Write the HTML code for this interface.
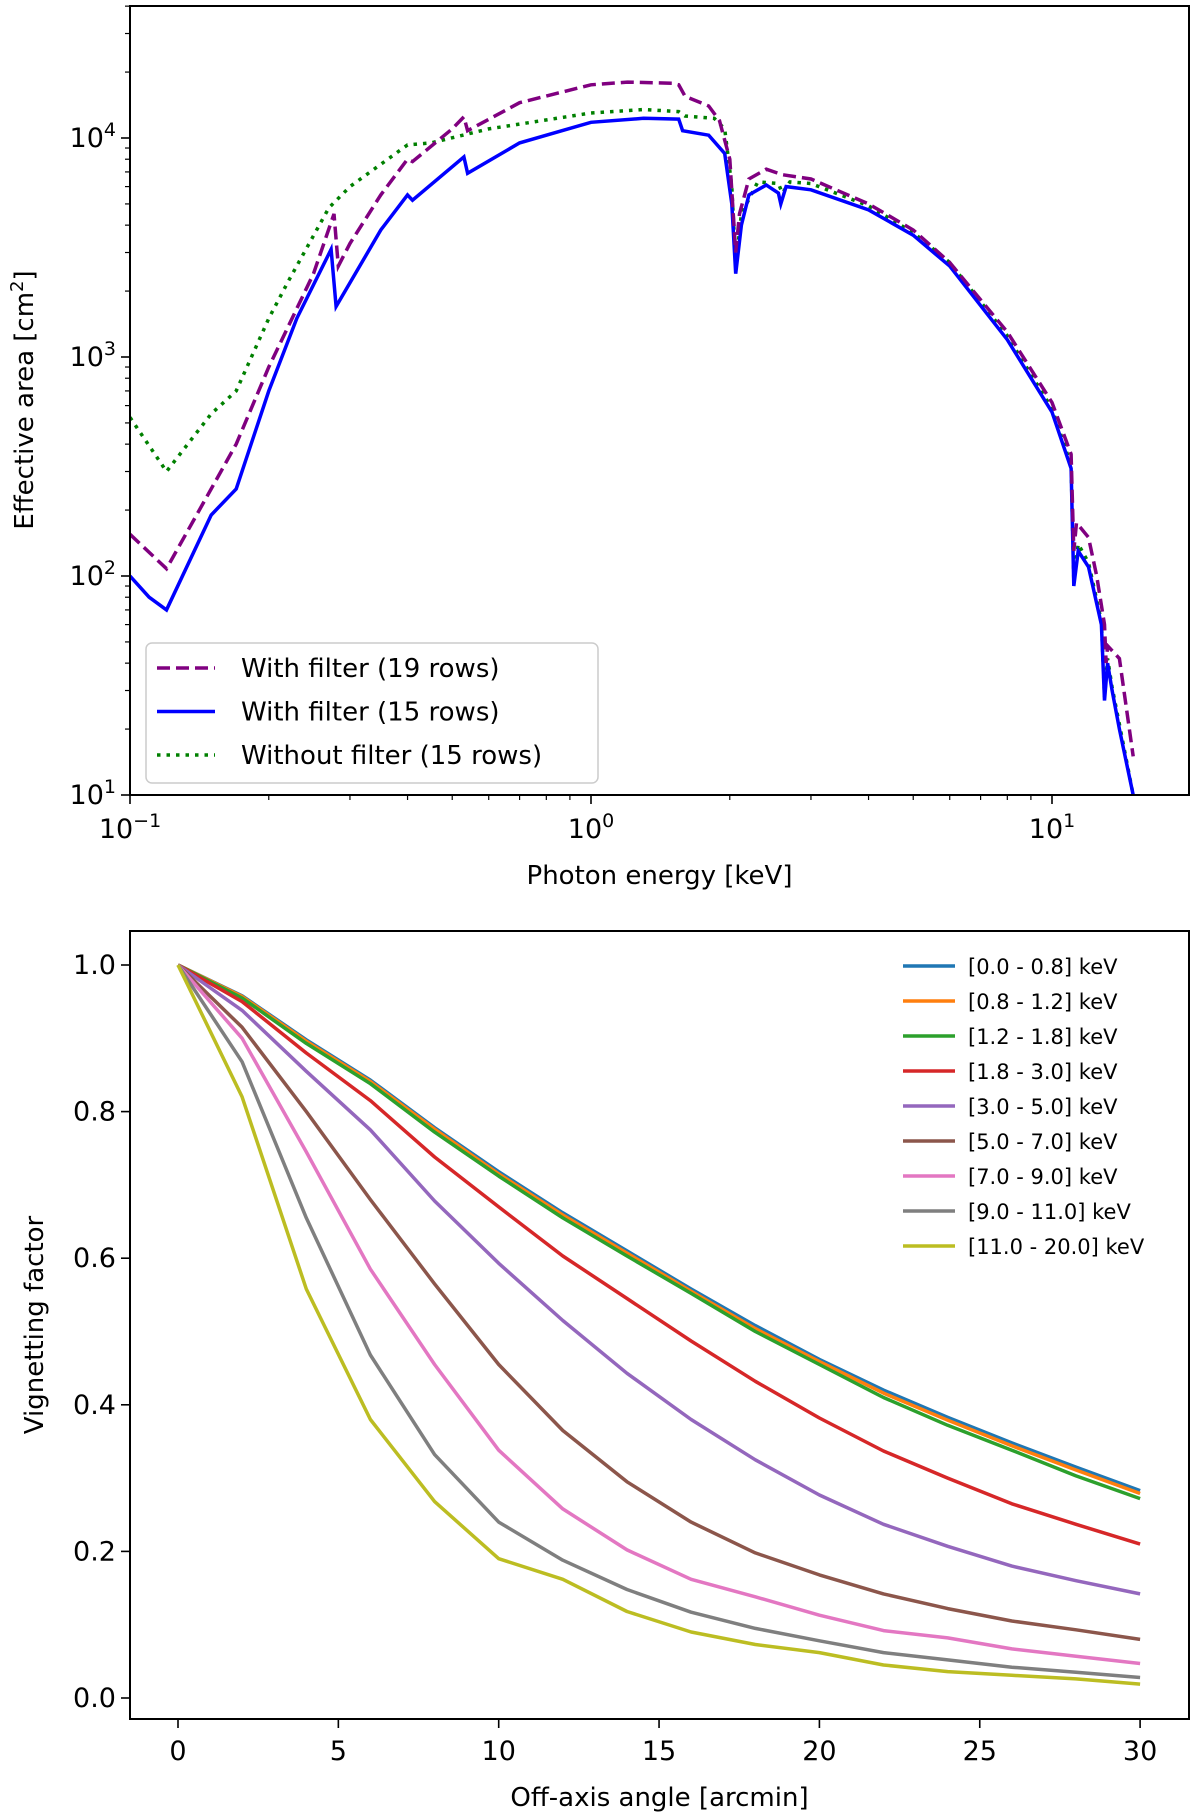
<!DOCTYPE html>
<html><head><meta charset="utf-8"><style>
body{margin:0;background:#fff}
svg{display:block;font-family:"DejaVu Sans","Liberation Sans",sans-serif}
</style></head><body>
<svg id="fig" width="1200" height="1819" viewBox="0 0 1200 1819" xmlns="http://www.w3.org/2000/svg"></svg>
<script>
// ---- Top chart data ----
const e19 = [0.1,0.12,0.15,0.17,0.2,0.25,0.277,0.283,0.3,0.35,0.4,0.41,0.5,0.53,0.54,0.7,1.0,1.2,1.5,1.55,1.6,1.8,1.9,2.0,2.06,2.1,2.2,2.4,2.6,3.0,4,5,6,8,10,11,11.15,11.3,12,12.5,13,13.1,13.2,14,15];
const a19 = [155,108,250,400,900,2400,4500,2600,3300,5500,8000,7800,11000,12500,10800,14500,17500,18000,17800,17500,15500,14000,12000,8000,3000,4500,6500,7200,6800,6500,5000,3800,2700,1300,620,360,130,175,150,100,60,40,48,42,15];
const e15 = [0.1,0.11,0.12,0.15,0.17,0.2,0.23,0.273,0.28,0.35,0.4,0.41,0.53,0.54,0.7,1.0,1.3,1.55,1.58,1.8,1.95,2.02,2.06,2.12,2.2,2.4,2.55,2.58,2.65,3,4,5,6,8,10,11,11.15,11.4,12,12.8,13,13.2,13.5,14,15];
const a15 = [100,80,70,190,250,700,1500,3100,1700,3800,5500,5200,8200,6900,9500,11800,12300,12200,10800,10300,8500,5000,2400,4000,5500,6100,5600,5000,6000,5800,4700,3600,2600,1200,560,310,90,130,110,60,27,40,30,20,10];
const eNo = [0.1,0.12,0.15,0.17,0.2,0.22,0.27,0.3,0.4,0.45,0.6,1.0,1.3,1.55,1.6,1.85,1.95,2.02,2.06,2.12,2.3,2.55,2.6,2.7,3,4,5,6,8,10,11,11.15,11.4,12,12.8,13,13.2,13.5,14,15];
const aNo = [530,300,550,700,1500,2200,4800,6000,9300,9500,11000,13000,13500,13200,12600,12300,11000,6000,2600,4500,6300,6200,5600,6300,6200,4900,3700,2700,1250,580,320,95,140,115,62,28,42,31,21,10];
const topXTicks = [-1,0,1];
const topYTicks = [1,2,3,4];
// ---- Bottom chart data ----
const angles = [0,2,4,6,8,10,12,14,16,18,20,22,24,26,28,30];
const bandLabels = ["[0.0 - 0.8] keV","[0.8 - 1.2] keV","[1.2 - 1.8] keV","[1.8 - 3.0] keV","[3.0 - 5.0] keV","[5.0 - 7.0] keV","[7.0 - 9.0] keV","[9.0 - 11.0] keV","[11.0 - 20.0] keV"];
const v0 = [1,.958,.898,.843,.778,.718,.662,.61,.558,.508,.462,.42,.383,.348,.315,.283];
const v1 = [1,.957,.896,.841,.776,.715,.659,.607,.555,.504,.459,.416,.379,.344,.311,.279];
const v2 = [1,.955,.893,.838,.772,.712,.655,.603,.552,.5,.455,.41,.372,.338,.303,.272];
const v3 = [1,.95,.88,.815,.738,.67,.603,.545,.487,.432,.382,.337,.3,.265,.237,.21];
const v4 = [1,.938,.855,.775,.678,.593,.515,.443,.38,.325,.277,.237,.207,.18,.16,.142];
const v5 = [1,.915,.8,.68,.565,.455,.365,.295,.24,.198,.168,.142,.122,.105,.093,.08];
const v6 = [1,.9,.745,.585,.455,.338,.258,.202,.162,.138,.113,.092,.082,.067,.057,.047];
const v7 = [1,.868,.655,.468,.332,.24,.188,.148,.117,.095,.078,.062,.052,.042,.035,.028];
const v8 = [1,.82,.558,.38,.268,.19,.162,.118,.09,.073,.062,.045,.036,.031,.026,.019];
const bottomXTicks = [0,5,10,15,20,25,30];
const bottomYTicks = [0,0.2,0.4,0.6,0.8,1.0];

const NS="http://www.w3.org/2000/svg";
const svg=document.getElementById('fig');
function mk(tag,attrs,parent,text){const el=document.createElementNS(NS,tag);for(const k in attrs)el.setAttribute(k,attrs[k]);if(text!==undefined)el.textContent=text;(parent||svg).appendChild(el);return el;}

// ---- top axes ----
const T={l:130,r:1189,t:6,b:795};
const tx=e=>T.l+(Math.log10(e)+1)*461;
const ty=a=>T.b-(Math.log10(a)-1)*219;
const gTop=mk('g',{});


function path(xs,ys,fx,fy,attrs,parent,name){const d=xs.map((x,i)=>(i?'L':'M')+fx(x).toFixed(1)+','+fy(ys[i]).toFixed(1)).join('');const p=mk('path',Object.assign({d,fill:'none'},attrs),parent);return p;}
const clipT=mk('clipPath',{id:'ct'});mk('rect',{x:T.l,y:T.t,width:T.r-T.l,height:T.b-T.t},clipT);
const sT=mk('g',{'clip-path':'url(#ct)'},gTop);
path(eNo,aNo,tx,ty,{stroke:'#008000','stroke-width':3.5,'stroke-dasharray':'3.5,6'},sT,'series-without-filter-15-rows');
path(e15,a15,tx,ty,{stroke:'#0000ff','stroke-width':3.5},sT,'series-with-filter-15-rows');
path(e19,a19,tx,ty,{stroke:'#800080','stroke-width':3.5,'stroke-dasharray':'13,6'},sT,'series-with-filter-19-rows');
for(let d=-1;d<=1;d++)for(let m=2;m<=9;m++){const e=m*Math.pow(10,d);if(e>19.8)break;const x=tx(e);mk('line',{x1:x,x2:x,y1:T.b,y2:T.b+5,stroke:'#000','stroke-width':1.2},gTop);}
for(let d=1;d<=4;d++)for(let m=2;m<=9;m++){const a=m*Math.pow(10,d);const y=ty(a);if(y<T.t)break;mk('line',{x1:T.l-5,x2:T.l,y1:y,y2:y,stroke:'#000','stroke-width':1.2},gTop);}
topXTicks.forEach(p=>{const x=tx(Math.pow(10,p));mk('line',{x1:x,x2:x,y1:T.b,y2:T.b+9,stroke:'#000','stroke-width':1.6},gTop);
 const t=mk('text',{x:x,y:T.b+43,'font-size':27,'text-anchor':'middle'},gTop);
 mk('tspan',{},t,'10');mk('tspan',{dy:-11,'font-size':19},t,p<0?'\u2212'+(-p):String(p));});
topYTicks.forEach(p=>{const y=ty(Math.pow(10,p));mk('line',{x1:T.l-9,x2:T.l,y1:y,y2:y,stroke:'#000','stroke-width':1.6},gTop);
 const t=mk('text',{x:T.l-14,y:y+9,'font-size':27,'text-anchor':'end'},gTop);
 mk('tspan',{},t,'10');mk('tspan',{dy:-11,'font-size':19},t,String(p));});
mk('rect',{x:T.l,y:T.t,width:T.r-T.l,height:T.b-T.t,fill:'none',stroke:'#000','stroke-width':2},gTop);
let xl=mk('text',{x:(T.l+T.r)/2,y:884,'font-size':26,'text-anchor':'middle'},gTop,'Photon energy [keV]');

let yl=mk('text',{x:0,y:0,'font-size':26,'text-anchor':'middle',transform:'translate(33,400) rotate(-90)'},gTop);

mk('tspan',{},yl,'Effective area [cm');mk('tspan',{dy:-10,'font-size':18},yl,'2');mk('tspan',{dy:10},yl,']');
const lg=mk('g',{},gTop);
mk('rect',{x:146,y:643,width:452,height:140,rx:6,fill:'#fff','fill-opacity':0.85,stroke:'#ccc','stroke-width':1.5},lg);
const topLeg=[['With filter (19 rows)','#800080','13,6'],['With filter (15 rows)','#0000ff','none'],['Without filter (15 rows)','#008000','3.5,6']];
topLeg.forEach((L,i)=>{const y=668+i*43.5;const e=mk('g',{},lg);
 mk('line',{x1:157,x2:215,y1:y,y2:y,stroke:L[1],'stroke-width':3.5,'stroke-dasharray':L[2]},e);
 mk('text',{x:241,y:y+9,'font-size':26},e,L[0]);});

// ---- bottom axes ----
const B={l:130,r:1189,t:931,b:1719};
const bx=v=>178+v*32.07;
const by=v=>1698-v*733;
const gB=mk('g',{});


const colors=['#1f77b4','#ff7f0e','#2ca02c','#d62728','#9467bd','#8c564b','#e377c2','#7f7f7f','#bcbd22'];
const series=[v0,v1,v2,v3,v4,v5,v6,v7,v8];
series.forEach((s,i)=>path(angles,s,bx,by,{stroke:colors[i],'stroke-width':3.5,'stroke-linejoin':'round'},gB,'vignetting-series-'+i));
bottomXTicks.forEach(v=>{const x=bx(v);mk('line',{x1:x,x2:x,y1:B.b,y2:B.b+9,stroke:'#000','stroke-width':1.6},gB);
 const t=mk('text',{x:x,y:B.b+41,'font-size':27,'text-anchor':'middle'},gB,String(v));});
bottomYTicks.forEach(v=>{const y=by(v);mk('line',{x1:B.l-9,x2:B.l,y1:y,y2:y,stroke:'#000','stroke-width':1.6},gB);
 const t=mk('text',{x:B.l-14,y:y+9,'font-size':27,'text-anchor':'end'},gB,v.toFixed(1));});
mk('rect',{x:B.l,y:B.t,width:B.r-B.l,height:B.b-B.t,fill:'none',stroke:'#000','stroke-width':2},gB);
xl=mk('text',{x:(B.l+B.r)/2,y:1806,'font-size':26,'text-anchor':'middle'},gB,'Off-axis angle [arcmin]');

yl=mk('text',{x:0,y:0,'font-size':26,'text-anchor':'middle',transform:'translate(43,1325) rotate(-90)'},gB,'Vignetting factor');

const lb=mk('g',{},gB);
bandLabels.forEach((L,i)=>{const y=966+i*35;const e=mk('g',{},lb);
 mk('line',{x1:903,x2:955,y1:y,y2:y,stroke:colors[i],'stroke-width':3.5},e);
 mk('text',{x:968,y:y+8,'font-size':21},e,L);});
</script>
</body></html>
